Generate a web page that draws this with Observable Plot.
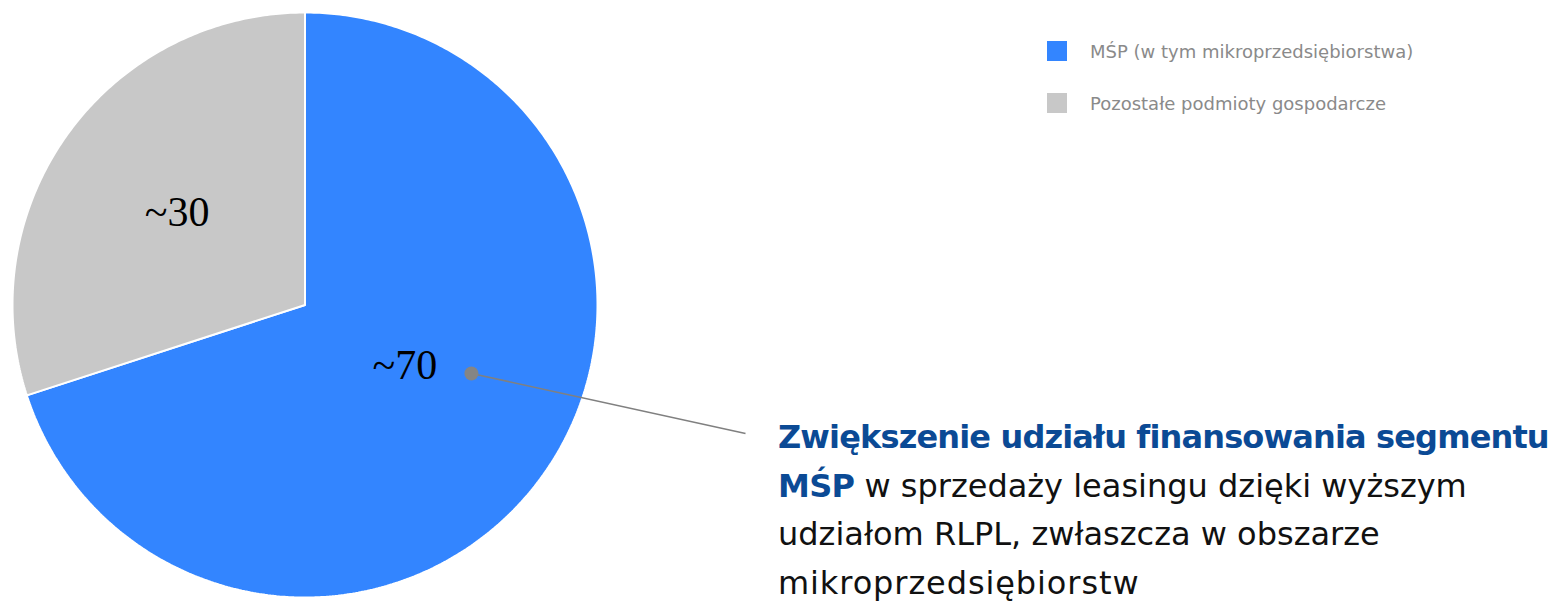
<!DOCTYPE html>
<html>
<head>
<meta charset="utf-8">
<script src="https://cdn.jsdelivr.net/npm/d3@7"></script>
<script src="https://cdn.jsdelivr.net/npm/@observablehq/plot@0.6"></script>
<style>
  html, body { margin: 0; padding: 0; background: #fff; overflow: hidden; }
  #wrap { position: relative; width: 1552px; height: 601px; }
  #wrap svg { position: absolute; left: 0; top: 0; }
  .legend { position: absolute; left: 1047px; top: 38px; font-family: "DejaVu Sans", sans-serif; font-size: 18px; color: #8a8a8a; }
  .legend .item { display: flex; align-items: center; height: 26px; margin-bottom: 26px; }
  .legend .sw { width: 20px; height: 20px; margin-right: 23px; }
  .note { position: absolute; left: 778px; top: 413px; font-family: "DejaVu Sans", sans-serif; font-size: 32px; line-height: 48.5px; color: #111; white-space: nowrap; }
  .note b { color: #0b4a95; font-weight: bold; letter-spacing: -0.7px; }
  .note .l1 b { letter-spacing: -0.85px; }
  .note .l4 { letter-spacing: 0.9px; }
</style>
</head>
<body>
<div id="wrap"></div>
<script>
// ---- data ----
const categories = ["MŚP (w tym mikroprzedsiębiorstwa)", "Pozostałe podmioty gospodarcze"];
const shares = [70, 30];
const valueLabels = ["~70", "~30"];
const colors = ["#3385ff", "#c8c8c8"];
const labelRadius = [0.40, 0.54];
const labelAngleShift = [-4.7, 0]; // degrees from slice mid-angle
// callout: anchor inside the MŚP slice, line runs out to the note text
const calloutPoint = [{x: 0.569, y: -0.234}];
const calloutEnd = [{x: 1.506, y: -0.439}];
const noteLines = [
  ["Zwiększenie udziału finansowania segmentu", ""],
  ["MŚP", " w sprzedaży leasingu dzięki wyższym"],
  ["", "udziałom RLPL, zwłaszcza w obszarze"],
  ["", "mikroprzedsiębiorstw"]
];

// ---- build slices from data ----
const pie = d3.pie().sort(null).value(d => d.value);
const rows = categories.map((c, i) => ({category: c, value: shares[i], label: valueLabels[i], r: labelRadius[i], shift: labelAngleShift[i]}));
const arcs = pie(rows);
const poly = [];
arcs.forEach(a => {
  const steps = Math.max(2, Math.ceil((a.endAngle - a.startAngle) / 0.01));
  poly.push({category: a.data.category, x: 0, y: 0});
  for (let k = 0; k <= steps; k++) {
    const t = a.startAngle + (a.endAngle - a.startAngle) * k / steps;
    poly.push({category: a.data.category, x: Math.sin(t), y: Math.cos(t)});
  }
  poly.push({category: a.data.category, x: 0, y: 0});
});
const labels = arcs.map(a => {
  const m = (a.startAngle + a.endAngle) / 2 + a.data.shift * Math.PI / 180;
  return {label: a.data.label, x: a.data.r * Math.sin(m), y: a.data.r * Math.cos(m)};
});
const callout = [{x1: calloutPoint[0].x, y1: calloutPoint[0].y, x2: calloutEnd[0].x, y2: calloutEnd[0].y}];

const chart = Plot.plot({
  width: 1552,
  height: 601,
  marginLeft: 12,
  marginRight: 955,
  marginTop: 12,
  marginBottom: 4,
  x: {domain: [-1, 1], axis: null},
  y: {domain: [-1, 1], axis: null},
  color: {domain: categories, range: colors},
  marks: [
    Plot.line(poly, {x: "x", y: "y", z: "category", fill: "category", stroke: "#fff", strokeWidth: 2, strokeLinejoin: "miter"}),
    Plot.text(labels, {x: "x", y: "y", text: "label", fill: "#000", fontSize: 42, fontFamily: "Liberation Serif, serif"}),
    Plot.link(callout, {x1: "x1", y1: "y1", x2: "x2", y2: "y2", stroke: "#808080", strokeWidth: 1.6}),
    Plot.dot(calloutPoint, {x: "x", y: "y", r: 7, fill: "#858585", stroke: "none"})
  ]
});

const wrap = document.getElementById("wrap");
wrap.appendChild(chart);

// legend
const lg = document.createElement("div");
lg.className = "legend";
categories.forEach((c, i) => {
  const it = document.createElement("div");
  it.className = "item";
  const sw = document.createElement("span");
  sw.className = "sw";
  sw.style.background = colors[i];
  const tx = document.createElement("span");
  tx.textContent = c;
  it.appendChild(sw); it.appendChild(tx);
  lg.appendChild(it);
});
wrap.appendChild(lg);

// note
const note = document.createElement("div");
note.className = "note";
noteLines.forEach(([bold, rest], i) => {
  const line = document.createElement("div");
  line.className = "l" + (i + 1);
  if (bold) { const b = document.createElement("b"); b.textContent = bold; line.appendChild(b); }
  if (rest) line.appendChild(document.createTextNode(rest));
  note.appendChild(line);
});
wrap.appendChild(note);
</script>
</body>
</html>
